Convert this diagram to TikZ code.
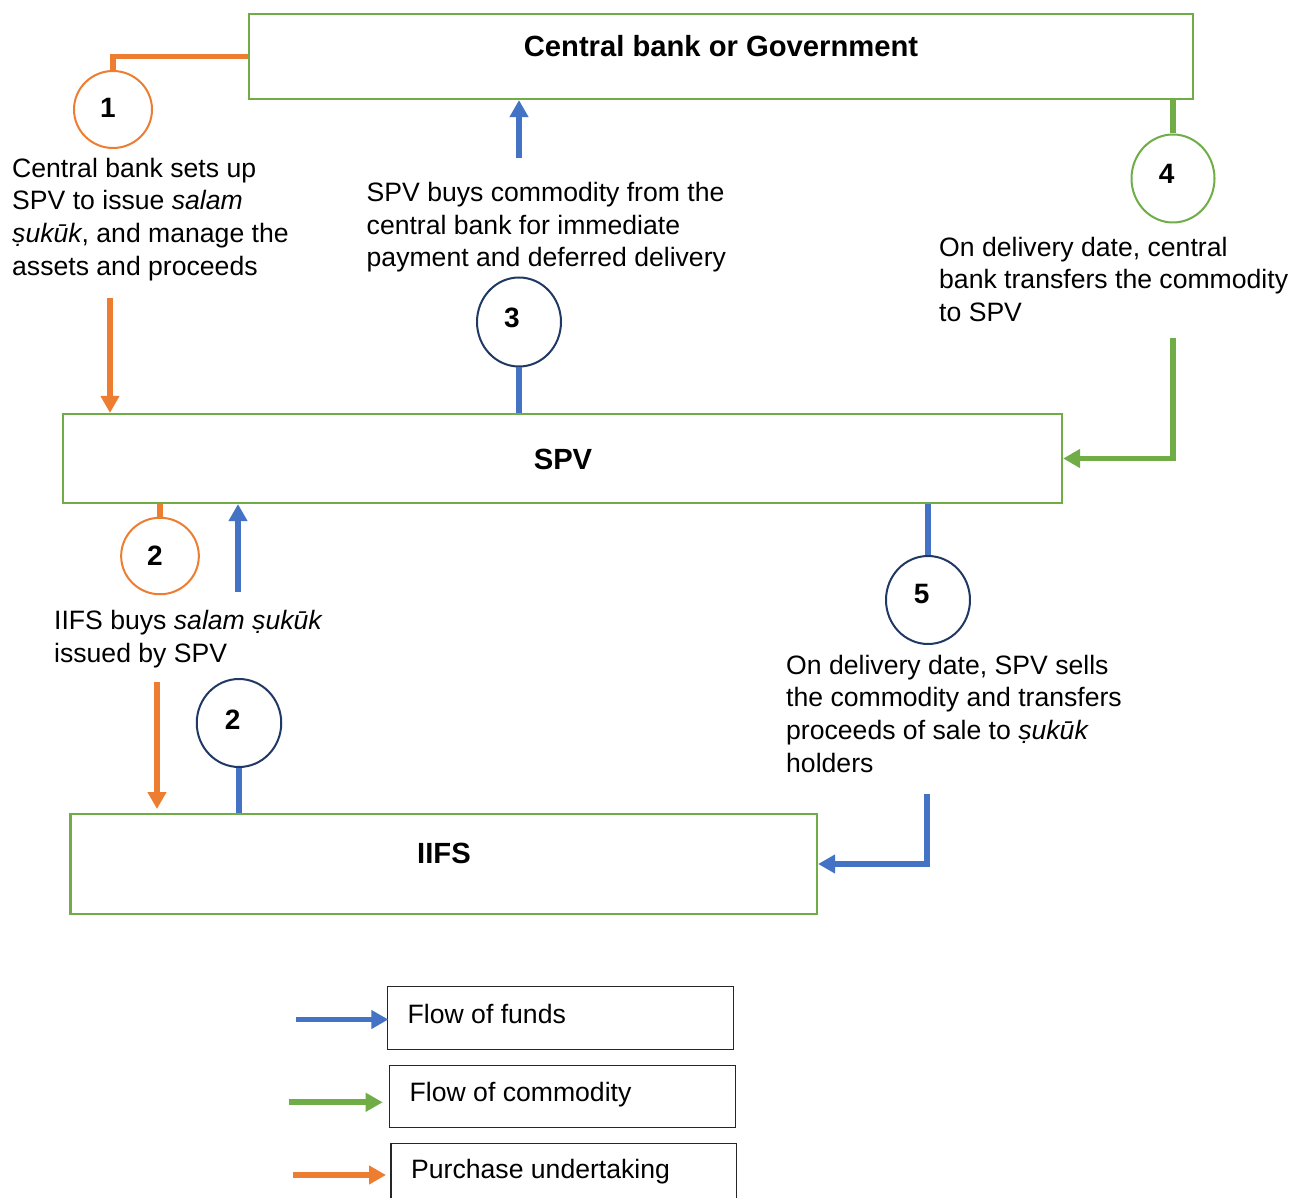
\documentclass[tikz,border=0pt]{standalone}
\usepackage{fontspec}
\setmainfont{Liberation Sans}
\usetikzlibrary{arrows.meta,shapes.geometric}
\definecolor{cOrange}{HTML}{ED7D31}
\definecolor{cBlue}{HTML}{4472C4}
\definecolor{cGreen}{HTML}{70AD47}
\definecolor{cNavy}{HTML}{203864}
\begin{document}
\begin{tikzpicture}[x=1pt,y=-1pt,
  gbox/.style={draw=cGreen,line width=2.2pt,rectangle,inner sep=0pt},
  lbox/.style={draw=black!85,line width=1.3pt,rectangle,inner sep=0pt},
  circ/.style={ellipse,line width=2pt,inner sep=0pt,fill=white},
  title/.style={font=\fontsize{29.2}{34}\selectfont\bfseries,inner sep=0pt,anchor=base},
  num/.style={font=\fontsize{28}{34}\selectfont\bfseries,inner sep=0pt,anchor=center},
  txt/.style={font=\fontsize{26.6}{32.6}\selectfont,align=left,inner sep=0pt,anchor=north west},
  ltxt/.style={font=\fontsize{26.6}{32.6}\selectfont,inner sep=0pt,anchor=base west},
  conn/.style={line width=5.8pt},
  arr/.style={line width=5.8pt,-{Triangle[width=18pt,length=17pt]}},
]
\useasboundingbox (0,0) rectangle (1307,1198);
\clip (0,0) rectangle (1307,1198);
\fill[white] (0,0) rectangle (1307,1198);

% main boxes
\node[gbox,minimum width=944pt,minimum height=85pt] (cb) at (721,56.5) {};
\node[gbox,minimum width=999pt,minimum height=89pt] (spv) at (562.5,458.5) {};
\node[gbox,minimum width=746.5pt,minimum height=100pt] (iifs) at (443.75,864) {};
\node[title] (tcb) at (721,56.5) {Central bank or Government};
\node[title] (tspv) at (563,469.5) {SPV};
\node[title] (tiifs) at (444,863.5) {IIFS};

% circles
\node[circ,draw=cOrange,minimum width=78pt,minimum height=77pt] (c1) at (113,109.5) {};
\node[circ,draw=cOrange,minimum width=77.7pt,minimum height=76.5pt] (c2a) at (160,556) {};
\node[circ,draw=cNavy,minimum width=84pt,minimum height=89pt] (c3) at (519,322) {};
\node[circ,draw=cNavy,minimum width=84.5pt,minimum height=88pt] (c2b) at (239,723) {};
\node[circ,draw=cGreen,minimum width=83pt,minimum height=88pt] (c4) at (1173,178.5) {};
\node[circ,draw=cNavy,minimum width=84pt,minimum height=88pt] (c5) at (928,600) {};
\node[num] (n1) at (108,108) {1};
\node[num] (n2a) at (155,556) {2};
\node[num] (n3) at (512,318) {3};
\node[num] (n2b) at (232.7,720) {2};
\node[num] (n4) at (1166.7,173.5) {4};
\node[num] (n5) at (921.7,594.5) {5};

% texts
\node[txt] (t1) at (12,154.2) {\strut Central bank sets up\\SPV to issue \textit{salam}\\\textit{ṣukūk}, and manage the\\assets and proceeds};
\node[txt] (t3) at (366.5,178.7) {\strut SPV buys commodity from the\\central bank for immediate\\payment and deferred delivery};
\node[txt] (t4) at (939,233.2) {\strut On delivery date, central\\bank transfers the commodity\\to SPV};
\node[txt] (t2) at (54,606.7) {\strut IIFS buys \textit{salam ṣukūk}\\issued by SPV};
\node[txt] (t5) at (786,651.2) {\strut On delivery date, SPV sells\\the commodity and transfers\\proceeds of sale to \textit{ṣukūk}\\holders};

% free-end coordinates
\coordinate (a1s) at (110,298);
\coordinate (a3s) at (519,158);
\coordinate (a4s) at (1173,338);
\coordinate (a2u) at (238,592);
\coordinate (a2d) at (157,682);
\coordinate (a2e) at (157,809);
\coordinate (a5s) at (927,794);

% connectors
\draw[conn,cOrange] (c1.north) |- (cb.west);
\draw[arr,cOrange] (a1s) -- (a1s |- spv.north);
\draw[arr,cBlue] (a3s) -- (a3s |- cb.south);
\draw[conn,cBlue] (c3.south) -- (c3.south |- spv.north);
\draw[conn,cGreen] (cb.south -| c4.north) -- (c4.north);
\draw[arr,cGreen] (a4s) |- (spv.east);
\draw[conn,cOrange] (spv.south -| c2a.north) -- (c2a.north);
\draw[arr,cBlue] (a2u) -- (a2u |- spv.south);
\draw[arr,cOrange] (a2d) -- (a2e);
\draw[conn,cBlue] (c2b.south) -- (c2b.south |- iifs.north);
\draw[conn,cBlue] (spv.south -| c5.north) -- (c5.north);
\draw[arr,cBlue] (a5s) |- (iifs.east);

% legend
\node[lbox,minimum width=346pt,minimum height=62.6pt] (lb1) at (560.7,1018) {};
\node[lbox,minimum width=345.6pt,minimum height=61.6pt] (lb2) at (562.5,1096.5) {};
\node[lbox,minimum width=345.7pt,minimum height=62pt] (lb3) at (563.85,1174.3) {};
\node[ltxt] (lt1) at (407.5,1023) {Flow of funds};
\node[ltxt] (lt2) at (409.5,1101) {Flow of commodity};
\node[ltxt] (lt3) at (411,1178) {Purchase undertaking};
\coordinate (l1s) at (296,1019.5);
\coordinate (l1e) at (388.3,1019.5);
\coordinate (l2s) at (289,1102.3);
\coordinate (l2e) at (382.7,1102.3);
\coordinate (l3s) at (292.7,1175);
\coordinate (l3e) at (386,1175);
\draw[arr,cBlue] (l1s) -- (l1e);
\draw[arr,cGreen] (l2s) -- (l2e);
\draw[arr,cOrange] (l3s) -- (l3e);
\end{tikzpicture}
\end{document}
